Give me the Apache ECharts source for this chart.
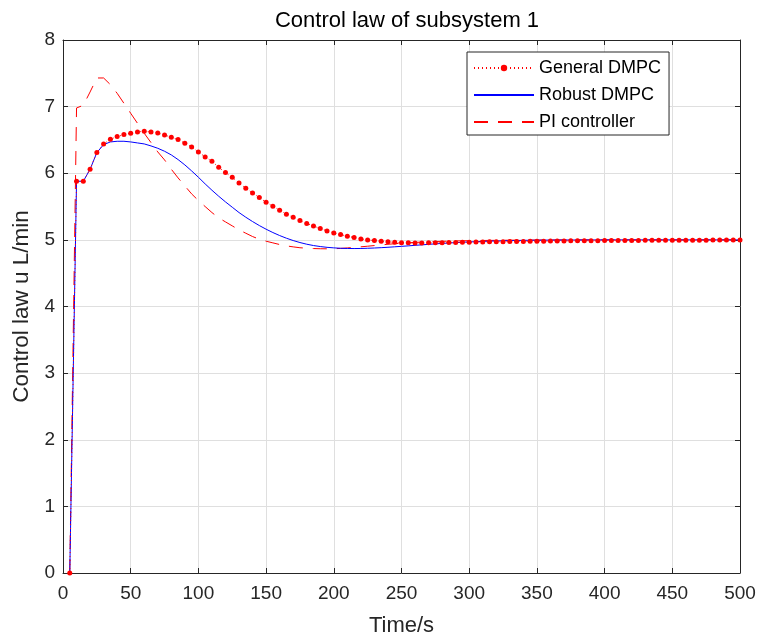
<!DOCTYPE html>
<html>
<head>
<meta charset="utf-8">
<script src="https://cdn.jsdelivr.net/npm/echarts@6/dist/echarts.min.js"></script>
<style>
html,body{margin:0;padding:0;background:#fff;}
#chart{width:758px;height:638px;}
</style>
</head>
<body>
<div id="chart"></div>
<script>
const titleText = 'Control law of subsystem 1';
const xName = 'Time/s';
const yName = 'Control law u L/min';
const seriesNames = ['General DMPC', 'Robust DMPC', 'PI controller'];
const xTicks = [0, 50, 100, 150, 200, 250, 300, 350, 400, 450, 500];
const yTicks = [0, 1, 2, 3, 4, 5, 6, 7, 8];

const times = [
  5,10,15,20,25,30,35,40,45,50,55,60,65,70,75,80,85,90,95,100,
  105,110,115,120,125,130,135,140,145,150,155,160,165,170,175,180,185,190,195,200,
  205,210,215,220,225,230,235,240,245,250,255,260,265,270,275,280,285,290,295,300,
  305,310,315,320,325,330,335,340,345,350,355,360,365,370,375,380,385,390,395,400,
  405,410,415,420,425,430,435,440,445,450,455,460,465,470,475,480,485,490,495,500
];

const generalDMPC = [
  0,5.88,5.88,6.06,6.31,6.44,6.51,6.55,6.58,6.60,6.62,6.63,6.62,6.605,6.575,6.54,6.505,6.45,6.395,6.32,
  6.245,6.18,6.09,6.01,5.94,5.855,5.775,5.705,5.635,5.565,5.505,5.445,5.385,5.34,5.29,5.245,5.21,5.17,5.135,5.105,
  5.08,5.055,5.035,5.015,5.0,4.99,4.98,4.97,4.963,4.958,4.955,4.954,4.954,4.955,4.956,4.957,4.959,4.961,4.963,4.965,
  4.967,4.969,4.97,4.972,4.973,4.975,4.976,4.977,4.978,4.98,4.981,4.982,4.983,4.984,4.985,4.986,4.987,4.987,4.988,4.989,
  4.99,4.99,4.991,4.992,4.992,4.993,4.993,4.994,4.994,4.995,4.995,4.995,4.996,4.996,4.996,4.997,4.997,4.997,4.998,4.998
];

const robustDMPC = [
  0,5.88,5.88,6.06,6.31,6.43,6.47,6.48,6.48,6.47,6.455,6.44,6.41,6.375,6.33,6.275,6.205,6.125,6.035,5.94,
  5.84,5.745,5.655,5.57,5.49,5.41,5.34,5.275,5.215,5.16,5.11,5.065,5.025,4.99,4.96,4.935,4.915,4.9,4.888,4.88,
  4.874,4.871,4.87,4.871,4.874,4.878,4.883,4.889,4.896,4.903,4.91,4.918,4.925,4.933,4.94,4.947,4.953,4.959,4.964,4.969,
  4.973,4.977,4.981,4.984,4.987,4.989,4.991,4.993,4.994,4.995,4.996,4.997,4.997,4.998,4.998,4.998,4.999,4.999,4.999,5.0,
  5.0,5.0,5.0,5.0,5.0,5.0,5.0,5.0,5.0,5.0,5.0,5.0,5.0,5.0,5.0,5.0,5.0,5.0,5.0,5.0
];

const piController = [
  0,6.98,7.02,7.22,7.43,7.43,7.33,7.2,7.05,6.9,6.75,6.6,6.46,6.32,6.2,6.06,5.93,5.81,5.69,5.59,
  5.5,5.41,5.33,5.27,5.21,5.15,5.1,5.05,5.01,4.98,4.955,4.93,4.91,4.895,4.882,4.875,4.87,4.867,4.866,4.867,
  4.872,4.879,4.887,4.896,4.905,4.915,4.925,4.934,4.942,4.95,4.956,4.962,4.967,4.971,4.975,4.978,4.981,4.984,4.986,4.988,
  4.99,4.991,4.992,4.993,4.994,4.995,4.996,4.996,4.997,4.997,4.998,4.998,4.999,4.999,4.999,5.0,5.0,5.0,5.0,5.0,
  5.0,5.0,5.0,5.0,5.0,5.0,5.0,5.0,5.0,5.0,5.0,5.0,5.0,5.0,5.0,5.0,5.0,5.0,5.0,5.0
];

function pairs(vals){ return times.map((t,i)=>[t, vals[i]]); }

const FONT = 'Liberation Sans, Arial, Helvetica, sans-serif';
const AX = '#262626';
const GRID = '#dfdfdf';

const chart = echarts.init(document.getElementById('chart'), null, {renderer:'canvas'});
const baseX = {
  type:'value', min:xTicks[0], max:xTicks[xTicks.length-1], interval:50,
  axisLine:{show:true, onZero:false, lineStyle:{color:AX, width:1}},
  axisTick:{show:true, inside:true, length:5, lineStyle:{color:AX}},
};
const baseY = {
  type:'value', min:yTicks[0], max:yTicks[yTicks.length-1], interval:1,
  axisLine:{show:true, onZero:false, lineStyle:{color:AX, width:1}},
  axisTick:{show:true, inside:true, length:5, lineStyle:{color:AX}},
};
chart.setOption({
  animation:false,
  backgroundColor:'#ffffff',
  title:{text:titleText, left:402, textAlign:'center', top:5,
    textStyle:{fontFamily:FONT, fontSize:22, fontWeight:'normal', color:'#000'}},
  grid:{left:63, right:18, top:40, bottom:65, containLabel:false, outerBoundsMode:'none'},
  legend:{
    orient:'vertical', left:467, top:52,
    data:[
      {name:seriesNames[0]},
      {name:seriesNames[1], itemStyle:{opacity:0}},
      {name:seriesNames[2], itemStyle:{opacity:0}}
    ],
    itemWidth:60, itemHeight:8, itemGap:9,
    padding:[7,8,4,6],
    borderColor:AX, borderWidth:1, backgroundColor:'#fff',
    textStyle:{fontFamily:FONT, fontSize:18, color:'#000'}
  },
  xAxis:[
    Object.assign({}, baseX, {position:'bottom',
      name:xName, nameLocation:'middle', nameGap:42,
      nameTextStyle:{fontFamily:FONT, fontSize:22, color:AX},
      axisLabel:{fontFamily:FONT, fontSize:19, color:AX, margin:11},
      splitLine:{show:true, lineStyle:{color:GRID, width:1}}}),
    Object.assign({}, baseX, {position:'top', axisLabel:{show:false}, splitLine:{show:false}})
  ],
  yAxis:[
    Object.assign({}, baseY, {position:'left',
      name:yName, nameLocation:'middle', nameGap:27,
      nameTextStyle:{fontFamily:FONT, fontSize:22.5, color:AX},
      axisLabel:{fontFamily:FONT, fontSize:19, color:AX, margin:8},
      splitLine:{show:true, lineStyle:{color:GRID, width:1}}}),
    Object.assign({}, baseY, {position:'right', axisLabel:{show:false}, splitLine:{show:false}})
  ],
  series:[
    {name:seriesNames[0], type:'line', data:pairs(generalDMPC),
      symbol:'circle', symbolSize:5, showSymbol:true,
      itemStyle:{color:'#ff0000'},
      lineStyle:{color:'#ff0000', width:1, type:[1,3]}, z:4},
    {name:seriesNames[1], type:'line', data:pairs(robustDMPC),
      symbol:'none', itemStyle:{color:'#0000ff'},
      lineStyle:{color:'#0000ff', width:1}, z:3},
    {name:seriesNames[2], type:'line', data:pairs(piController),
      symbol:'none', itemStyle:{color:'#ff0000'},
      lineStyle:{color:'#ff0000', width:1, type:[14,10]}, z:2}
  ]
});
</script>
</body>
</html>
